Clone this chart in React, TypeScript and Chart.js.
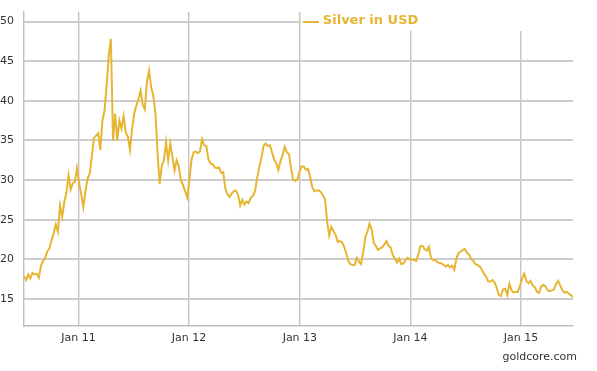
import React, { useEffect, useRef } from "react";
import { Chart, registerables } from "chart.js";

Chart.register(...registerables);

// Weekly silver price (USD/oz), first week starting 2010-07-05
const startDate = "2010-07-05";
const weeklyPrices = [
  17.9, 17.4, 18.1, 17.6, 18.3, 18.1, 18.2, 17.7, 19.2, 19.8,
  20.2, 21.0, 21.4, 22.4, 23.3, 24.4, 23.5, 26.8, 25.4, 27.2,
  28.4, 30.6, 28.8, 29.6, 29.8, 31.5, 29.6, 28.2, 26.6, 28.6,
  30.2, 30.8, 33.0, 35.3, 35.6, 35.9, 33.8, 37.5, 38.8, 42.0,
  45.8, 47.8, 35.0, 38.4, 35.0, 37.5, 36.5, 38.1, 36.0, 35.5,
  33.8, 36.5, 38.4, 39.4, 40.2, 41.3, 39.5, 38.9, 42.4, 43.8,
  41.7, 40.6, 38.5, 33.4, 29.5, 31.8, 32.5, 34.8, 32.5, 34.6,
  33.0, 31.2, 32.5, 31.8, 30.0, 29.4, 28.6, 27.8, 30.0, 32.5,
  33.5, 33.6, 33.4, 33.6, 35.2, 34.4, 34.3, 32.6, 32.1, 32.0,
  31.6, 31.5, 31.6, 30.9, 31.0, 28.9, 28.2, 27.9, 28.3, 28.6,
  28.7, 28.1, 26.8, 27.5, 26.9, 27.3, 27.1, 27.8, 28.0, 28.6,
  30.3, 31.6, 32.8, 34.3, 34.6, 34.3, 34.4, 33.5, 32.6, 32.1,
  31.3, 32.4, 33.2, 34.2, 33.5, 33.3, 31.5, 30.0, 29.9, 30.1,
  31.1, 31.7, 31.7, 31.3, 31.4, 30.4, 29.1, 28.6, 28.7, 28.7,
  28.5, 28.1, 27.6, 24.8, 23.0, 24.1, 23.6, 23.1, 22.2, 22.3,
  22.2, 21.6, 20.8, 19.8, 19.4, 19.3, 19.3, 20.2, 19.7, 19.4,
  20.8, 22.8, 23.5, 24.5, 23.8, 22.1, 21.7, 21.2, 21.4, 21.5,
  21.9, 22.3, 21.7, 21.5, 20.5, 20.1, 19.6, 20.1, 19.4, 19.5,
  19.9, 20.2, 20.0, 20.0, 19.9, 19.8, 20.6, 21.7, 21.7, 21.3,
  21.1, 21.6, 20.2, 19.9, 19.9, 19.7, 19.5, 19.5, 19.3, 19.1,
  19.3, 19.0, 19.2, 18.7, 20.1, 20.8, 21.0, 21.2, 21.3, 20.8,
  20.6, 20.0, 19.8, 19.4, 19.3, 19.1, 18.7, 18.2, 17.8, 17.2,
  17.2, 17.4, 17.1, 16.4, 15.5, 15.4, 16.2, 16.3, 15.5, 16.9,
  16.1, 15.8, 15.9, 15.9, 16.7, 17.6, 18.2, 17.3, 17.0, 17.3,
  16.7, 16.5, 15.9, 15.8, 16.6, 16.8, 16.6, 16.1, 16.0, 16.1,
  16.2, 16.9, 17.3, 16.7, 16.1, 15.8, 15.9, 15.7, 15.5, 15.2,
];

const tickYears = [2011, 2012, 2013, 2014, 2015];
const tickYearLabels = ["Jan 11", "Jan 12", "Jan 13", "Jan 14", "Jan 15"];
const priceTicks = [15, 20, 25, 30, 35, 40, 45, 50];
const seriesLabel = "Silver in USD";
const sourceText = "goldcore.com";

const WEEK = 7 * 24 * 3600 * 1000;
const LINE_COLOR = "#E6B532";
const GRID_H = "#cdcdcd";
const FONT = "'DejaVu Sans', Verdana, sans-serif";

export default function App() {
  const ref = useRef<HTMLCanvasElement | null>(null);

  useEffect(() => {
    if (!ref.current) return;
    const t0 = Date.parse(startDate + "T00:00:00Z");
    const points = weeklyPrices.map((v, i) => ({ x: t0 + i * WEEK, y: v }));
    const yearMs = tickYears.map((y) => Date.UTC(y, 0, 1));
    const xMin = points[0].x;
    const xMax = points[points.length - 1].x;

    const hGrid = {
      id: "hGrid",
      beforeDatasetsDraw(chart: any) {
        const ctx = chart.ctx;
        const ys = chart.scales.y;
        const xs = chart.scales.x;
        const left = xs.getPixelForValue(xMin);
        const right = xs.getPixelForValue(xMax);
        ctx.save();
        ctx.fillStyle = GRID_H;
        priceTicks.forEach((v) => {
          const py = Math.round(ys.getPixelForValue(v));
          ctx.fillRect(left, py - 1, right - left, 2);
        });
        ctx.restore();
      },
    };

    const overlay = {
      id: "overlay",
      afterDraw(chart: any) {
        const ctx = chart.ctx;
        const xs = chart.scales.x;
        const right = xs.getPixelForValue(xMax);
        const x13 = xs.getPixelForValue(Date.UTC(2013, 0, 1));
        ctx.save();
        // legend panel
        ctx.fillStyle = "#ffffff";
        ctx.fillRect(Math.round(x13) + 1, 0, right + 4 - Math.round(x13), 31);
        ctx.strokeStyle = LINE_COLOR;
        ctx.lineWidth = 2;
        ctx.beginPath();
        ctx.moveTo(x13 + 3, 22);
        ctx.lineTo(x13 + 19, 22);
        ctx.stroke();
        ctx.fillStyle = LINE_COLOR;
        ctx.font = "bold 13px " + FONT;
        ctx.textBaseline = "middle";
        ctx.textAlign = "left";
        ctx.fillText(seriesLabel, x13 + 23, 21);
        // source
        ctx.fillStyle = "#333333";
        ctx.font = "11px " + FONT;
        ctx.textAlign = "right";
        ctx.fillText(sourceText, 577, 357);
        ctx.restore();
      },
    };

    const chart = new Chart(ref.current, {
      type: "line",
      data: {
        datasets: [
          {
            label: seriesLabel,
            data: points,
            borderColor: LINE_COLOR,
            borderWidth: 2,
            pointRadius: 0,
            tension: 0,
            fill: false,
          },
        ],
      },
      options: {
        responsive: false,
        animation: false,
        parsing: false,
        layout: { padding: { left: 0, right: 24, top: 12, bottom: 0 } },
        plugins: {
          legend: { display: false },
          tooltip: { enabled: false },
        },
        scales: {
          x: {
            type: "linear",
            min: xMin,
            max: xMax,
            afterBuildTicks: (scale: any) => {
              scale.ticks = yearMs.map((v) => ({ value: v }));
            },
            afterFit: (scale: any) => {
              scale.height = 45;
            },
            ticks: {
              autoSkip: false,
              maxRotation: 0,
              padding: 6,
              color: "#333333",
              font: { family: FONT, size: 11 },
              callback: (value: any) => {
                const idx = yearMs.indexOf(Number(value));
                return idx >= 0 ? tickYearLabels[idx] : "";
              },
            },
            grid: { color: "#c4c4c4", lineWidth: 1.4, drawTicks: false },
            border: { display: true, color: "#bdbdbd", width: 1.4 },
          },
          y: {
            type: "linear",
            min: 11.6,
            max: 51.2,
            afterBuildTicks: (scale: any) => {
              scale.ticks = priceTicks.map((v) => ({ value: v }));
            },
            afterFit: (scale: any) => {
              scale.width = 24;
            },
            ticks: {
              autoSkip: false,
              padding: 2,
              color: "#333333",
              font: { family: FONT, size: 11 },
              callback: (value: any) => String(value),
            },
            grid: { display: false },
            border: { display: true, color: "#bdbdbd", width: 1.4 },
          },
        },
      },
      plugins: [hGrid, overlay],
    });
    return () => chart.destroy();
  }, []);

  return (
    <div style={{ position: "absolute", left: 0, top: 0, width: 597, height: 371, background: "#fff" }}>
      <canvas ref={ref} width={597} height={371} style={{ display: "block" }} />
    </div>
  );
}
